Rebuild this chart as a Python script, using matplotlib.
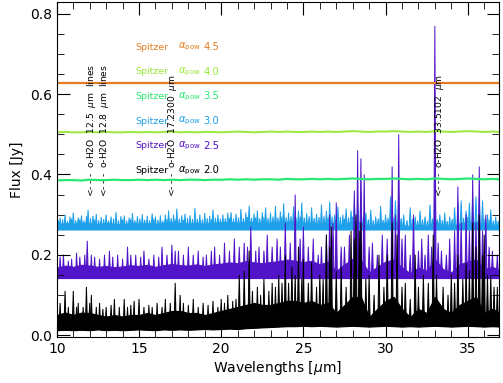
import numpy as np
import matplotlib
matplotlib.use("Agg")
import matplotlib.pyplot as plt
from matplotlib.ticker import MultipleLocator

# wavelength grid for continuum envelopes [micron]
wl_grid = np.arange(10.0, 37.01, 0.5)

# flat-ish spectra (alpha_pow 4.5, 4.0, 3.5)
flux_45 = [0.627] * len(wl_grid)
flux_40 = [0.505, 0.506, 0.505, 0.505, 0.506, 0.505, 0.506, 0.505, 0.505, 0.506,
           0.505, 0.506, 0.505, 0.506, 0.507, 0.505, 0.506, 0.505, 0.506, 0.506,
           0.505, 0.506, 0.507, 0.506, 0.505, 0.506, 0.507, 0.506, 0.507, 0.506,
           0.506, 0.507, 0.506, 0.507, 0.506, 0.507, 0.508, 0.507, 0.506, 0.507,
           0.507, 0.508, 0.507, 0.506, 0.507, 0.506, 0.508, 0.507, 0.506, 0.507,
           0.508, 0.507, 0.506, 0.507, 0.506]
flux_35 = [0.385, 0.386, 0.386, 0.385, 0.387, 0.386, 0.386, 0.387, 0.386, 0.386,
           0.387, 0.386, 0.387, 0.386, 0.387, 0.386, 0.387, 0.387, 0.386, 0.387,
           0.387, 0.388, 0.387, 0.388, 0.387, 0.388, 0.388, 0.387, 0.389, 0.388,
           0.388, 0.389, 0.388, 0.389, 0.388, 0.389, 0.390, 0.389, 0.388, 0.389,
           0.389, 0.390, 0.389, 0.388, 0.389, 0.388, 0.390, 0.389, 0.388, 0.389,
           0.390, 0.389, 0.388, 0.389, 0.388]

# alpha_pow 3.0 : continuum band and line peaks
lo_30 = [0.263] * len(wl_grid)
hi_30 = [0.276, 0.279, 0.277, 0.280, 0.278, 0.276, 0.280, 0.277, 0.276, 0.279,
         0.278, 0.279, 0.276, 0.280, 0.281, 0.279, 0.278, 0.280, 0.277, 0.280,
         0.281, 0.282, 0.280, 0.283, 0.281, 0.280, 0.279, 0.282, 0.283, 0.281,
         0.280, 0.279, 0.277, 0.281, 0.272, 0.277, 0.283, 0.281, 0.270, 0.275,
         0.280, 0.283, 0.275, 0.270, 0.275, 0.272, 0.283, 0.274, 0.271, 0.278,
         0.281, 0.283, 0.274, 0.275, 0.272]
pk_wl_30 = [10.2, 10.5, 10.8, 11.0, 11.3, 11.5, 11.8, 11.9, 12.2, 12.4, 12.7,
            13.0, 13.3, 13.6, 13.9, 14.1, 14.4, 14.6, 14.9, 15.2, 15.5, 15.8,
            16.0, 16.3, 16.6, 16.8, 17.1, 17.3, 17.6, 17.8, 18.1, 18.4, 18.7,
            19.0, 19.3, 19.5, 19.8, 20.1, 20.4, 20.6, 20.9, 21.2, 21.5, 21.7,
            22.0, 22.2, 22.5, 22.7, 23.0, 23.3, 23.6, 23.8, 24.1, 24.4, 24.7,
            24.9, 25.2, 25.5, 25.8, 26.1, 26.4, 26.6, 26.9, 27.1, 27.4, 27.6,
            27.9, 28.1, 28.3, 28.5, 28.8, 29.1, 29.4, 29.7, 30.0, 30.3, 30.6,
            30.8, 31.1, 31.5, 31.8, 32.1, 32.4, 32.7, 33.0, 33.3, 33.6, 33.9,
            34.2, 34.4, 34.6, 34.9, 35.1, 35.3, 35.5, 35.7, 35.9, 36.2, 36.4,
            36.7]
pk_fx_30 = [0.292, 0.300, 0.295, 0.305, 0.293, 0.298, 0.296, 0.312, 0.297, 0.302,
            0.294, 0.300, 0.295, 0.306, 0.296, 0.298, 0.293, 0.304, 0.296, 0.301,
            0.297, 0.303, 0.295, 0.298, 0.300, 0.310, 0.300, 0.315, 0.298, 0.302,
            0.298, 0.316, 0.300, 0.304, 0.297, 0.312, 0.300, 0.300, 0.305, 0.306,
            0.302, 0.314, 0.305, 0.322, 0.303, 0.310, 0.306, 0.318, 0.305, 0.322,
            0.308, 0.328, 0.305, 0.320, 0.310, 0.330, 0.303, 0.318, 0.302, 0.325,
            0.310, 0.332, 0.300, 0.320, 0.300, 0.315, 0.310, 0.340, 0.330, 0.355,
            0.305, 0.312, 0.295, 0.322, 0.300, 0.345, 0.335, 0.352, 0.300, 0.318,
            0.295, 0.310, 0.295, 0.325, 0.385, 0.300, 0.305, 0.295, 0.318, 0.330,
            0.335, 0.310, 0.330, 0.345, 0.345, 0.340, 0.335, 0.300, 0.312, 0.295]
# small noise spikes on the 3.0 continuum
nz_wl_30 = [10.1, 10.35, 10.65, 10.9, 11.15, 11.4, 11.65, 12.05, 12.3, 12.55,
            12.85, 13.15, 13.45, 13.75, 14.0, 14.25, 14.5, 14.75, 15.05, 15.35,
            15.65, 15.9, 16.15, 16.45, 16.7, 16.95, 17.2, 17.45, 17.7, 17.95,
            18.25, 18.55, 18.85, 19.15, 19.4, 19.65, 19.95, 20.25, 20.5, 20.75,
            21.05, 21.35, 21.6, 21.85, 22.1, 22.35, 22.6, 22.85, 23.15, 23.45,
            23.7, 23.95, 24.25, 24.55, 24.8, 25.05, 25.35, 25.65, 25.95, 26.25,
            26.5, 26.75, 27.0, 27.25, 27.5, 27.75, 28.0, 28.65, 28.95, 29.25,
            29.55, 29.85, 30.15, 30.45, 30.95, 31.3, 31.65, 31.95, 32.25, 32.55,
            32.85, 33.15, 33.45, 33.75, 34.05, 34.75, 35.0, 36.05, 36.3, 36.55,
            36.85]
nz_fx_30 = [0.285, 0.288, 0.284, 0.290, 0.286, 0.289, 0.285, 0.291, 0.287, 0.286,
            0.289, 0.285, 0.290, 0.286, 0.288, 0.285, 0.289, 0.286, 0.290, 0.287,
            0.286, 0.290, 0.287, 0.285, 0.289, 0.291, 0.288, 0.290, 0.287, 0.291,
            0.289, 0.290, 0.288, 0.291, 0.289, 0.292, 0.290, 0.291, 0.292, 0.290,
            0.293, 0.291, 0.294, 0.292, 0.293, 0.291, 0.294, 0.292, 0.295, 0.293,
            0.295, 0.293, 0.296, 0.294, 0.295, 0.293, 0.296, 0.292, 0.294, 0.296,
            0.293, 0.295, 0.292, 0.294, 0.290, 0.293, 0.295, 0.292, 0.288, 0.286,
            0.290, 0.287, 0.292, 0.294, 0.291, 0.286, 0.289, 0.285, 0.288, 0.284,
            0.290, 0.288, 0.286, 0.284, 0.289, 0.292, 0.294, 0.290, 0.287, 0.285,
            0.284]

# alpha_pow 2.5
lo_25 = [0.142] * len(wl_grid)
hi_25 = [0.168, 0.173, 0.170, 0.175, 0.173, 0.170, 0.172, 0.169, 0.171, 0.174,
         0.172, 0.175, 0.170, 0.174, 0.177, 0.174, 0.173, 0.176, 0.172, 0.176,
         0.178, 0.181, 0.179, 0.184, 0.181, 0.179, 0.182, 0.184, 0.188, 0.185,
         0.182, 0.185, 0.176, 0.183, 0.160, 0.176, 0.190, 0.186, 0.156, 0.170,
         0.183, 0.188, 0.168, 0.154, 0.168, 0.160, 0.188, 0.164, 0.156, 0.176,
         0.183, 0.188, 0.164, 0.170, 0.160]
pk_wl_25 = [10.2, 10.4, 10.7, 10.9, 11.2, 11.4, 11.7, 11.85, 12.1, 12.3, 12.6,
            12.9, 13.2, 13.4, 13.7, 14.0, 14.3, 14.5, 14.8, 15.1, 15.3, 15.6,
            15.9, 16.2, 16.4, 16.7, 17.0, 17.2, 17.4, 17.7, 18.0, 18.3, 18.6,
            18.9, 19.1, 19.4, 19.6, 19.9, 20.2, 20.5, 20.8, 21.1, 21.4, 21.6,
            21.8, 22.1, 22.3, 22.6, 22.8, 23.1, 23.4, 23.6, 23.9, 24.2, 24.5,
            24.8, 25.0, 25.3, 25.6, 25.9, 26.1, 26.4, 26.6, 26.8, 27.0, 27.3,
            27.5, 27.8, 28.1, 28.3, 28.5, 28.7, 29.0, 29.2, 29.5, 29.8, 30.1,
            30.4, 30.6, 30.8, 31.0, 31.2, 31.5, 31.7, 32.0, 32.2, 32.4, 32.6,
            32.8, 33.0, 33.2, 33.4, 33.7, 33.9, 34.2, 34.4, 34.6, 34.9, 35.1,
            35.3, 35.5, 35.7, 35.9, 36.1, 36.3, 36.5, 36.8]
pk_fx_25 = [0.195, 0.200, 0.185, 0.190, 0.205, 0.195, 0.200, 0.235, 0.200, 0.195,
            0.190, 0.200, 0.210, 0.195, 0.200, 0.190, 0.220, 0.200, 0.200, 0.195,
            0.210, 0.190, 0.200, 0.195, 0.220, 0.200, 0.225, 0.210, 0.210, 0.200,
            0.220, 0.200, 0.210, 0.195, 0.200, 0.210, 0.220, 0.200, 0.230, 0.210,
            0.240, 0.220, 0.230, 0.220, 0.270, 0.210, 0.220, 0.210, 0.250, 0.220,
            0.240, 0.220, 0.280, 0.230, 0.350, 0.240, 0.270, 0.220, 0.240, 0.200,
            0.220, 0.250, 0.300, 0.280, 0.330, 0.220, 0.220, 0.250, 0.360, 0.460,
            0.440, 0.400, 0.220, 0.230, 0.200, 0.250, 0.240, 0.420, 0.300, 0.500,
            0.240, 0.250, 0.200, 0.300, 0.210, 0.240, 0.200, 0.250, 0.220, 0.770,
            0.230, 0.210, 0.200, 0.240, 0.260, 0.370, 0.280, 0.300, 0.260, 0.400,
            0.280, 0.420, 0.260, 0.300, 0.220, 0.210, 0.200]

# alpha_pow 2.0
lo_20 = [0.012, 0.013, 0.012, 0.013, 0.012, 0.014, 0.012, 0.013, 0.012, 0.013,
         0.014, 0.013, 0.012, 0.014, 0.013, 0.014, 0.013, 0.014, 0.015, 0.014,
         0.015, 0.016, 0.015, 0.017, 0.018, 0.019, 0.020, 0.021, 0.022, 0.022,
         0.023, 0.022, 0.023, 0.022, 0.021, 0.022, 0.023, 0.022, 0.021, 0.022,
         0.023, 0.022, 0.021, 0.022, 0.021, 0.022, 0.023, 0.022, 0.021, 0.022,
         0.023, 0.022, 0.021, 0.022, 0.021]
hi_20 = [0.050, 0.056, 0.050, 0.056, 0.055, 0.050, 0.046, 0.050, 0.046, 0.050,
         0.050, 0.055, 0.050, 0.055, 0.060, 0.060, 0.055, 0.055, 0.050, 0.055,
         0.060, 0.065, 0.070, 0.075, 0.080, 0.075, 0.075, 0.080, 0.085, 0.085,
         0.080, 0.085, 0.075, 0.080, 0.055, 0.075, 0.095, 0.095, 0.045, 0.065,
         0.085, 0.095, 0.065, 0.045, 0.065, 0.055, 0.095, 0.065, 0.055, 0.075,
         0.085, 0.095, 0.055, 0.065, 0.055]
pk_wl_20 = [10.2, 10.5, 10.7, 11.0, 11.2, 11.3, 11.6, 11.8, 12.0, 12.1, 12.4,
            12.6, 12.8, 13.0, 13.3, 13.5, 13.8, 14.1, 14.3, 14.5, 14.7, 15.0,
            15.3, 15.6, 15.8, 16.1, 16.4, 16.6, 16.9, 17.2, 17.5, 17.7, 18.0,
            18.3, 18.6, 18.9, 19.2, 19.5, 19.8, 20.0, 20.2, 20.4, 20.7, 20.9,
            21.1, 21.4, 21.7, 21.9, 22.2, 22.4, 22.6, 22.9, 23.1, 23.3, 23.5,
            23.7, 23.9, 24.1, 24.3, 24.5, 24.7, 24.9, 25.0, 25.3, 25.5, 25.8,
            26.0, 26.2, 26.4, 26.6, 26.7, 27.0, 27.3, 27.6, 27.9, 28.1, 28.2,
            28.4, 28.5, 28.8, 29.0, 29.3, 29.6, 29.9, 30.1, 30.4, 30.7, 31.0,
            31.2, 31.5, 31.8, 32.0, 32.3, 32.6, 32.9, 33.1, 33.5, 33.8, 34.0,
            34.2, 34.4, 34.7, 34.9, 35.1, 35.3, 35.5, 35.7, 35.9, 36.0, 36.2,
            36.4, 36.6, 36.8]
pk_fx_20 = [0.080, 0.110, 0.070, 0.110, 0.070, 0.080, 0.070, 0.120, 0.080, 0.100,
            0.070, 0.080, 0.065, 0.070, 0.075, 0.090, 0.070, 0.090, 0.070, 0.075,
            0.085, 0.090, 0.070, 0.075, 0.070, 0.080, 0.070, 0.090, 0.080, 0.130,
            0.100, 0.080, 0.075, 0.090, 0.070, 0.080, 0.075, 0.085, 0.070, 0.090,
            0.080, 0.100, 0.085, 0.090, 0.150, 0.160, 0.210, 0.110, 0.120, 0.100,
            0.140, 0.110, 0.130, 0.120, 0.150, 0.130, 0.200, 0.130, 0.170, 0.150,
            0.220, 0.140, 0.190, 0.130, 0.180, 0.120, 0.150, 0.140, 0.250, 0.220,
            0.270, 0.160, 0.170, 0.120, 0.260, 0.240, 0.300, 0.260, 0.280, 0.140,
            0.150, 0.100, 0.200, 0.120, 0.200, 0.280, 0.250, 0.120, 0.130, 0.090,
            0.200, 0.120, 0.150, 0.130, 0.250, 0.150, 0.120, 0.100, 0.150, 0.130,
            0.200, 0.140, 0.180, 0.160, 0.280, 0.220, 0.300, 0.200, 0.250, 0.150,
            0.150, 0.120, 0.120]

alphas = ['4.5', '4.0', '3.5', '3.0', '2.5', '2.0']
colors = ['#e47d22', '#9ae83a', '#26e872', '#1ea0ea', '#5214c8', '#000000']

fig = plt.figure(figsize=(5.03, 3.83), dpi=100)
ax = fig.add_axes([0.113, 0.12, 0.879, 0.875])

ax.plot(wl_grid, flux_45, color=colors[0], lw=1.6)
ax.plot(wl_grid, flux_40, color=colors[1], lw=1.4)
ax.plot(wl_grid, flux_35, color=colors[2], lw=1.6)

half_w = 0.07  # half width of a drawn line profile [micron]
bands = [(lo_30, hi_30, [pk_wl_30, nz_wl_30], [pk_fx_30, nz_fx_30], colors[3]),
         (lo_25, hi_25, [pk_wl_25], [pk_fx_25], colors[4]),
         (lo_20, hi_20, [pk_wl_20], [pk_fx_20], colors[5])]
for lo, hi, pws, pfs, c in bands:
    ax.fill_between(wl_grid, lo, hi, color=c, lw=0.8, edgecolor=c)
    for pw, pf in zip(pws, pfs):
        base = np.interp(pw, wl_grid, lo)
        for w, b, f in zip(pw, base, pf):
            ax.fill([w - half_w, w, w + half_w], [b, f, b], color=c, lw=0.7)

# legend-like labels: "Spitzer", alpha_pow and the index as separate pieces
for i, (a, c) in enumerate(zip(alphas, colors)):
    y = 0.7175 - i * 0.0615
    ax.text(14.8, y, 'Spitzer', color=c, fontsize=6.8, va='center', ha='left')
    ax.text(17.35, y, r'$\alpha_{\rm pow}$', color=c, fontsize=7.2,
            va='center', ha='left')
    ax.text(18.9, y, a, color=c, fontsize=7.2, va='center', ha='left')

# line identifications
ids = [(12.12, '<- - -  o-H2O  12.5  $\\mu$m  lines'),
       (12.88, '<- - -  o-H2O  12.8  $\\mu$m  lines'),
       (17.03, '<- - -  o-H2O  17.2300  $\\mu$m'),
       (33.3, '<- - -  o-H2O  33.5102  $\\mu$m')]
for x, s in ids:
    ax.text(x, 0.345, s, rotation=90, fontsize=6.6, ha='center', va='bottom')

ax.set_xlim(10, 36.9)
ax.set_ylim(-0.005, 0.83)
ax.xaxis.set_major_locator(MultipleLocator(5))
ax.xaxis.set_minor_locator(MultipleLocator(1))
ax.yaxis.set_major_locator(MultipleLocator(0.2))
ax.yaxis.set_minor_locator(MultipleLocator(0.05))
ax.yaxis.set_major_formatter(plt.FormatStrFormatter('%.1f'))
ax.tick_params(which='both', direction='in', top=True, right=True, labelsize=10)
ax.tick_params(which='major', length=9)
ax.tick_params(which='minor', length=5)
ax.set_xlabel(r'Wavelengths [$\mu$m]', fontsize=10, labelpad=2)
ax.set_ylabel('Flux [Jy]', fontsize=10, labelpad=4)

fig.savefig('out.png', dpi=100)
